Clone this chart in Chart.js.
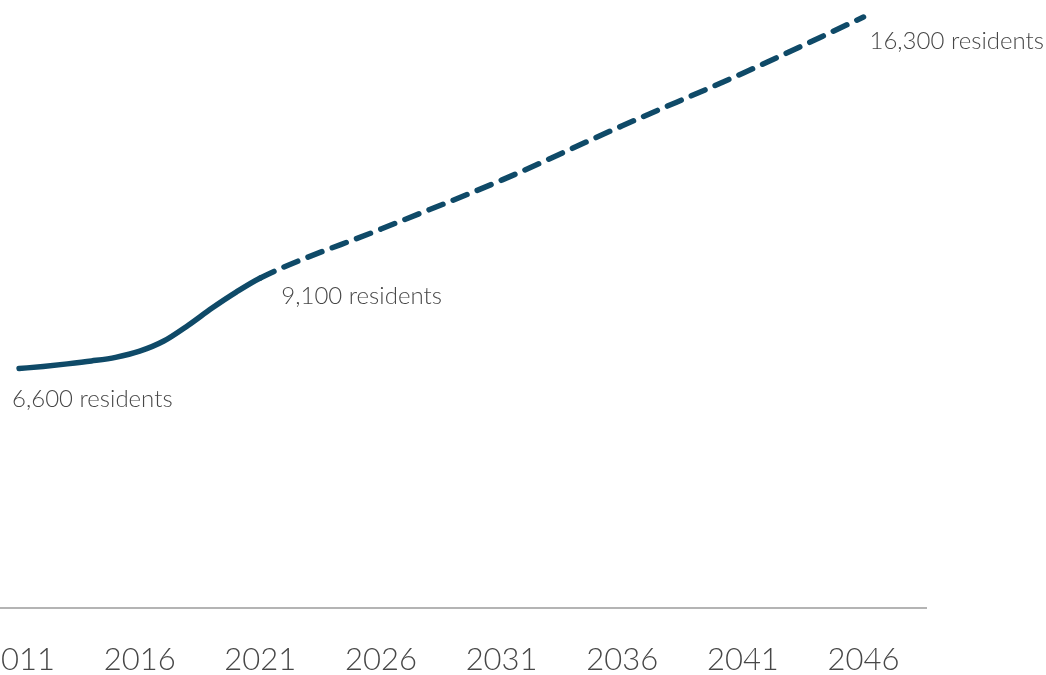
<!DOCTYPE html>
<html>
<head>
<meta charset="utf-8">
<script src="https://cdn.jsdelivr.net/npm/chart.js@4/dist/chart.umd.min.js"></script>
<style>
  html, body { margin: 0; padding: 0; background: #fff; overflow: hidden; }
  #wrap { position: absolute; left: -40px; top: 0; width: 1086px; height: 713px; }
</style>
</head>
<body>
<div id="wrap"><canvas id="popChart"></canvas></div>
<script>
let years = [2011, 2012, 2013, 2014, 2015, 2016, 2017, 2018, 2019, 2020, 2021, 2026, 2031, 2036, 2041, 2046];
let residents = [6600, 6660, 6730, 6810, 6910, 7080, 7360, 7790, 8270, 8710, 9100, 10450, 11800, 13300, 14750, 16300];

let tickYears = [2011, 2016, 2021, 2026, 2031, 2036, 2041, 2046];
let tickLabels = ['2011', '2016', '2021', '2026', '2031', '2036', '2041', '2046'];

// which points get a "x residents" note, and where the note sits
let noteYears = [2011, 2021, 2046];
let noteOffsets = [[-7, 31], [21, 18], [6, 24]];

let projectionStart = 2021;
let lineColor = '#0f4a68';
let textColor = '#474747';

let points = years.map((y, i) => ({ x: y, y: residents[i] }));

let notesPlugin = {
    id: 'notes',
    afterDatasetsDraw(chart) {
        let ctx = chart.ctx;
        let xs = chart.scales.x;
        let ys = chart.scales.y;
        ctx.save();
        ctx.font = '300 24px Lato';
        ctx.fillStyle = textColor;
        ctx.textAlign = 'left';
        ctx.textBaseline = 'middle';
        noteYears.forEach((yr, i) => {
            let v = residents[years.indexOf(yr)];
            let px = xs.getPixelForValue(yr) + noteOffsets[i][0];
            let py = ys.getPixelForValue(v) + noteOffsets[i][1];
            ctx.fillText(v.toLocaleString('en-US') + ' residents', px, py);
        });
        ctx.restore();
    }
};

let ctx = document.getElementById('popChart').getContext('2d');
let popChart = new Chart(ctx, {
    type: 'line',
    data: {
        datasets: [{
            data: points,
            borderColor: lineColor,
            borderWidth: 5.5,
            borderCapStyle: 'round',
            borderJoinStyle: 'round',
            pointRadius: 0,
            cubicInterpolationMode: 'monotone',
            clip: false,
            segment: {
                borderDash: c => c.p0.parsed.x >= projectionStart ? [15, 11] : undefined
            }
        }]
    },
    options: {
        responsive: true,
        maintainAspectRatio: false,
        animation: false,
        layout: { padding: { left: 40, right: 120, top: 0, bottom: 0 } },
        plugins: { legend: { display: false }, tooltip: { enabled: false } },
        scales: {
            x: {
                type: 'linear',
                min: 2010.21,
                max: 2048.59,
                afterBuildTicks: s => { s.ticks = tickYears.map(v => ({ value: v })); },
                afterFit: s => { s.paddingLeft = 0; s.paddingRight = 0; },
                ticks: {
                    callback: (v) => tickLabels[tickYears.indexOf(v)],
                    font: { family: 'Lato', size: 31, weight: '300' },
                    color: textColor,
                    padding: 34,
                    maxRotation: 0,
                    autoSkip: false
                },
                grid: { display: false, drawTicks: false },
                border: { display: true, color: '#b4b4b4', width: 2 }
            },
            y: {
                display: false,
                min: 0,
                max: 16770
            }
        }
    },
    plugins: [notesPlugin]
});
</script>
</body>
</html>
